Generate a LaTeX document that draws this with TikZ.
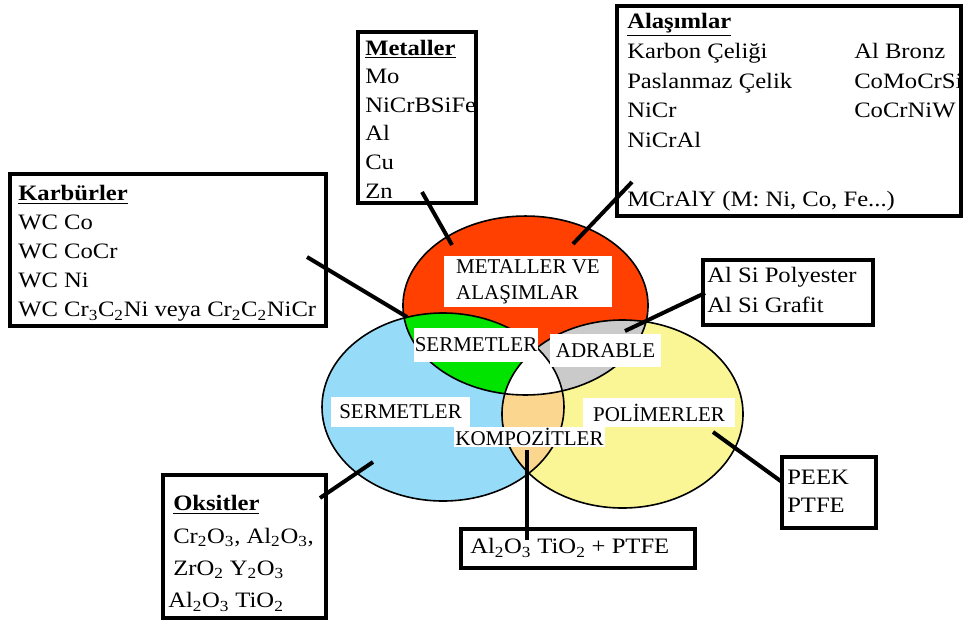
\documentclass[tikz,border=0pt]{standalone}
\usepackage{fontspec}
\setmainfont{Liberation Serif}
\newfontfamily\boxfont{Liberation Serif}[FakeStretch=1.12]
\usetikzlibrary{positioning}

\definecolor{redset}{RGB}{255,64,0}
\definecolor{blueset}{RGB}{150,220,248}
\definecolor{yellowset}{RGB}{250,246,150}
\definecolor{greenset}{RGB}{0,228,0}
\definecolor{grayset}{RGB}{202,202,202}
\definecolor{tanset}{RGB}{250,214,142}

\newcommand{\redring}{(525.5,305.5) ellipse [x radius=91.9pt, y radius=67.1pt]}
\newcommand{\bluering}{(443,407) ellipse [x radius=90.75pt, y radius=70.5pt]}
\newcommand{\yellowring}{(622.5,414) ellipse [x radius=90.4pt, y radius=70.5pt]}

\begin{document}
\begin{tikzpicture}[x=0.75pt,y=-0.75pt]
    \tikzset{
        ring/.style={draw=black, line width=1.2pt},
        lab/.style={fill=white, inner sep=0pt, font=\fontsize{15.75}{19.5}\selectfont},
        infobox/.style={draw, line width=3pt, inner sep=0pt},
        boxtext/.style={anchor=west, inner sep=0pt, align=left, font=\boxfont\fontsize{16.5}{21.75}\selectfont},
        con/.style={line width=3pt}
    }
    \useasboundingbox (0,0) rectangle (965,622);

    % sets
    \fill[blueset] \bluering;
    \fill[yellowset] \yellowring;
    \fill[redset] \redring;
    \begin{scope}
        \clip \redring;
        \fill[greenset] \bluering;
        \fill[grayset] \yellowring;
    \end{scope}
    \begin{scope}
        \clip \bluering;
        \fill[tanset] \yellowring;
        \clip \redring;
        \fill[white] \yellowring;
    \end{scope}
    \draw[ring] \redring;
    \draw[ring] \bluering;
    \draw[ring] \yellowring;

    % labels in the sets
    \node[lab, minimum width=126pt, minimum height=38.25pt, align=left] (metlab) at (528,281.5) {METALLER VE\\ALAŞIMLAR};
    \node[lab, minimum width=93pt, minimum height=25.5pt] (sermlab1) at (476,345) {SERMETLER};
    \node[lab, minimum width=83.25pt, minimum height=24.75pt] (adrlab) at (605.5,350.5) {ADRABLE};
    \node[lab, minimum width=104.25pt, minimum height=22.5pt] (sermlab2) at (400.5,412) {SERMETLER};
    \node[lab, minimum width=114pt, minimum height=21.75pt] (pollab) at (659,412.5) {POLİMERLER};
    \node[lab, inner sep=1pt] (komlab) at (529.5,437) {KOMPOZİTLER};

    % boxes
    \node[infobox, minimum width=88.5pt, minimum height=128.25pt] (metbox) at (417,117.5) {};
    \node[boxtext, font=\boxfont\fontsize{16.5}{21.45}\selectfont] (mettxt) at (365,119)
        {\underline{\textbf{Metaller}}\\Mo\\NiCrBSiFe\\Al\\Cu\\Zn};

    \node[infobox, minimum width=258pt, minimum height=157.5pt] (alasbox) at (789,111) {};
    \node[boxtext, font=\boxfont\fontsize{16.5}{22.25}\selectfont] (alastxt) at (627,112.5)
        {\underline{\textbf{Alaşımlar}}\\
         \makebox[170.25pt][l]{Karbon Çeliği}Al Bronz\\
         \makebox[170.25pt][l]{Paslanmaz Çelik}CoMoCrSi\\
         \makebox[170.25pt][l]{NiCr}CoCrNiW\\
         NiCrAl\\ \mbox{}\\
         MCrAlY (M: Ni, Co, Fe...)};

    \node[infobox, minimum width=237pt, minimum height=114pt] (karbbox) at (168,250) {};
    \node[boxtext] (karbtxt) at (18,253.5)
        {\underline{\textbf{Karbürler}}\\WC Co\\WC CoCr\\WC Ni\\
         WC Cr\textsubscript{3}C\textsubscript{2}Ni veya Cr\textsubscript{2}C\textsubscript{2}NiCr};

    \node[infobox, minimum width=127.5pt, minimum height=48.75pt] (alsibox) at (788,292.5) {};
    \node[boxtext, font=\boxfont\fontsize{16.5}{22.5}\selectfont] (alsitxt) at (707,290)
        {Al Si Polyester\\Al Si Grafit};

    \node[infobox, minimum width=70.5pt, minimum height=53.25pt] (peekbox) at (829,492.5) {};
    \node[boxtext, font=\boxfont\fontsize{16.5}{21}\selectfont] (peektxt) at (787,491)
        {PEEK\\PTFE};

    \node[infobox, minimum width=122.25pt, minimum height=107.25pt] (oksbox) at (244.5,546.5) {};
    \node[boxtext, font=\boxfont\fontsize{16.5}{24.25}\selectfont] (okstxt) at (173,553.5)
        {\underline{\textbf{Oksitler}}\\
         Cr\textsubscript{2}O\textsubscript{3}, Al\textsubscript{2}O\textsubscript{3},\\
         ZrO\textsubscript{2} Y\textsubscript{2}O\textsubscript{3}\\
         \hspace*{-3.75pt}Al\textsubscript{2}O\textsubscript{3} TiO\textsubscript{2}};

    \node[infobox, minimum width=175.5pt, minimum height=29.25pt] (ptfebox) at (578,548.5) {};
    \node[boxtext] (ptfetxt) at (470,548)
        {Al\textsubscript{2}O\textsubscript{3} TiO\textsubscript{2} + PTFE};

    % connectors
    \coordinate (metal-in) at (452,245);
    \coordinate (metal-out) at (422,192);
    \coordinate (alas-in) at (573,244);
    \coordinate (alas-out) at (632,182);
    \coordinate (karb-in) at (407,317);
    \coordinate (karb-out) at (307,257);
    \coordinate (alsi-in) at (625,331);
    \coordinate (alsi-out) at (705,293);
    \coordinate (peek-in) at (713,432);
    \coordinate (peek-out) at (782,482);
    \coordinate (oks-in) at (373,462);
    \coordinate (oks-out) at (320,498);
    \coordinate (komp-in) at (527,450);
    \coordinate (komp-out) at (527,540);
    \foreach \c in {metal,alas,karb,alsi,peek,oks,komp}{
        \draw[con] (\c-in) -- (\c-out);
    }
\end{tikzpicture}
\end{document}
